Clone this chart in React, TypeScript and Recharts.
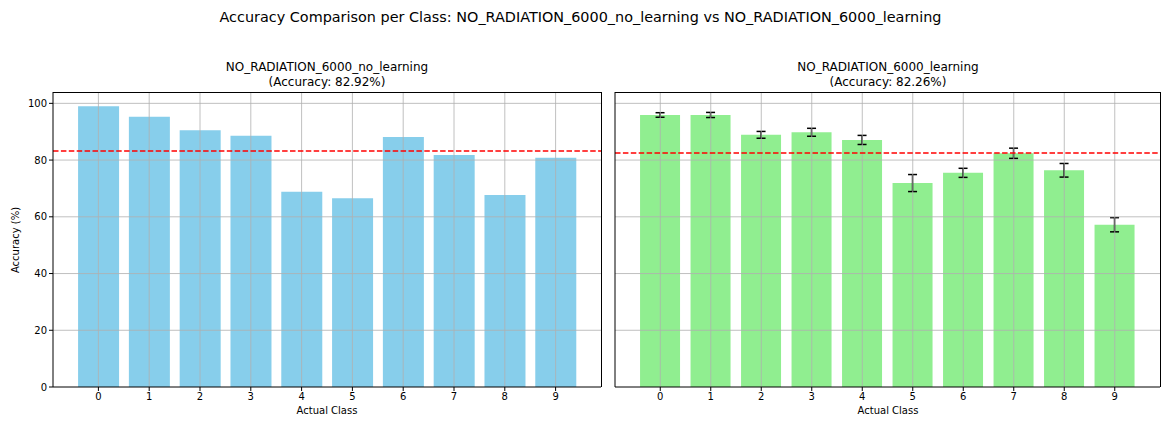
import { BarChart, Bar, XAxis, YAxis, ReferenceLine, ErrorBar } from 'recharts';

const classes = ['0', '1', '2', '3', '4', '5', '6', '7', '8', '9'];
const noLearningAcc = [99.0, 95.3, 90.5, 88.6, 68.8, 66.5, 88.1, 81.8, 67.7, 80.8];
const learningAcc = [95.9, 95.9, 88.9, 89.8, 87.1, 71.9, 75.5, 82.4, 76.4, 57.2];
const learningErr = [0.8, 0.9, 1.2, 1.4, 1.6, 3.0, 1.6, 1.8, 2.4, 2.5];
const noLearningMean = 83.2;
const learningMean = 82.5;
const yTicks = [0, 20, 40, 60, 80, 100];

const FONT = '"DejaVu Sans", sans-serif';
const GRID = '#b0b0b0';
const tickStyle = { fill: '#000', fontSize: 10, fontFamily: FONT };

const leftData = classes.map((c, i) => ({ cls: c, acc: noLearningAcc[i] }));
const rightData = classes.map((c, i) => ({ cls: c, acc: learningAcc[i], err: learningErr[i] }));

const Panel = ({ data, color, mean, showLabels, width, yAxisWidth, marginRight, withErr }: any) => (
  <BarChart
    width={width}
    height={421}
    data={data}
    margin={{ top: 92, right: marginRight, left: 0, bottom: 0 }}
    barCategoryGap="10%"
  >
    <XAxis
      dataKey="cls"
      padding={{ left: 20, right: 20 }}
      height={34}
      tick={tickStyle}
      tickLine={{ stroke: '#000' }}
      tickSize={4}
      axisLine={{ stroke: '#000' }}
    />
    <YAxis
      width={yAxisWidth}
      domain={[0, 104]}
      ticks={yTicks}
      tick={showLabels ? tickStyle : false}
      tickLine={{ stroke: '#000' }}
      tickSize={4}
      axisLine={{ stroke: '#000' }}
      allowDataOverflow
    />
    <Bar dataKey="acc" fill={color} isAnimationActive={false}>
      {withErr && <ErrorBar dataKey="err" direction="y" width={4.5} stroke="#000" strokeWidth={1.5} />}
    </Bar>
    {yTicks.slice(1).map((t) => (
      <ReferenceLine key={'y' + t} y={t} stroke={GRID} strokeWidth={0.8} />
    ))}
    {classes.map((c) => (
      <ReferenceLine key={'x' + c} x={c} stroke={GRID} strokeWidth={0.8} />
    ))}
    <ReferenceLine y={mean} stroke="#ff0000" strokeWidth={1.5} strokeDasharray="5.5 2.4" />
  </BarChart>
);

const textBase: React.CSSProperties = {
  position: 'absolute',
  fontFamily: FONT,
  color: '#000',
  whiteSpace: 'nowrap',
  textAlign: 'center',
  lineHeight: 1,
};

// top and right spines of each axes box
const frame = (left: number, width: number): React.CSSProperties => ({
  position: 'absolute',
  left,
  top: 92,
  width,
  height: 295,
  borderTop: '1px solid #000',
  borderRight: '1px solid #000',
  boxSizing: 'border-box',
  pointerEvents: 'none',
});

export default function App() {
  return (
    <div style={{ position: 'relative', width: 1161, height: 421, background: '#fff', overflow: 'hidden' }}>
      <style>{'body{margin:0}'}</style>
      <div style={{ position: 'absolute', left: 0, top: 0 }}>
        <Panel data={leftData} color="#87ceeb" mean={noLearningMean} showLabels width={610} yAxisWidth={53} marginRight={9} />
      </div>
      <div style={{ position: 'absolute', left: 605, top: 0 }}>
        <Panel data={rightData} color="#90ee90" mean={learningMean} showLabels={false} width={556} yAxisWidth={10} marginRight={1} withErr />
      </div>
      <div style={frame(53, 549)} />
      <div style={frame(615, 546)} />

      <div style={{ ...textBase, left: 0, width: 1161, top: 10, fontSize: 14.4 }}>
        Accuracy Comparison per Class: NO_RADIATION_6000_no_learning vs NO_RADIATION_6000_learning
      </div>

      <div style={{ ...textBase, left: 53, width: 548, top: 60, fontSize: 12, lineHeight: '15px' }}>
        NO_RADIATION_6000_no_learning<br />(Accuracy: 82.92%)
      </div>
      <div style={{ ...textBase, left: 615, width: 546, top: 60, fontSize: 12, lineHeight: '15px' }}>
        NO_RADIATION_6000_learning<br />(Accuracy: 82.26%)
      </div>

      <div style={{ ...textBase, left: 53, width: 548, top: 406, fontSize: 10 }}>Actual Class</div>
      <div style={{ ...textBase, left: 615, width: 546, top: 406, fontSize: 10 }}>Actual Class</div>

      <div
        style={{
          ...textBase,
          left: 16,
          top: 240,
          fontSize: 10,
          transform: 'translate(-50%, -50%) rotate(-90deg)',
        }}
      >
        Accuracy (%)
      </div>
    </div>
  );
}
